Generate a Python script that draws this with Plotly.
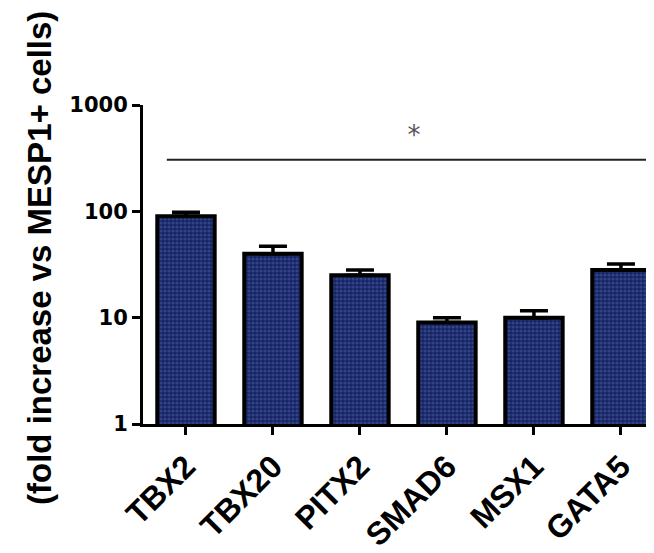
import plotly.graph_objects as go

genes = ["TBX2", "TBX20", "PITX2", "SMAD6", "MSX1", "GATA5"]
fold = [90, 40, 25, 9, 10, 28]
err = [8, 7, 3, 1, 1.6, 4]
sig_x = [-0.22, 5.31]
sig_y = [305, 305]
star_x = [2.62]
star_y = [490]

L, T, R, B = 135, 97, 646, 416
W, H = 654, 553

fig = go.Figure()
fig.add_trace(go.Bar(
    x=list(range(len(genes))), y=fold, width=0.66,
    marker=dict(color="#1c2a6e",
                line=dict(color="black", width=4),
                pattern=dict(shape=".", fgcolor="#4a64b8", bgcolor="#17235e", size=4, solidity=0.5)),
    error_y=dict(type="data", symmetric=False, array=err, arrayminus=[0]*len(err),
                 color="black", thickness=3.5, width=14),
    showlegend=False,
))
fig.add_trace(go.Scatter(x=sig_x, y=sig_y, mode="lines",
                         line=dict(color="#222", width=2), showlegend=False))
fig.add_trace(go.Scatter(x=star_x, y=star_y, mode="text", text=["*"],
                         textfont=dict(size=26, color="#555", family="DejaVu Sans"),
                         showlegend=False))

fig.update_layout(
    width=W, height=H,
    margin=dict(l=L, r=W - R, t=T, b=H - B),
    paper_bgcolor="white", plot_bgcolor="white",
    font=dict(family="DejaVu Sans", color="black"),
    xaxis=dict(range=[-0.494, 5.38], tickmode="array", tickvals=list(range(len(genes))),
               ticktext=["<b>%s</b>" % g for g in genes], tickangle=-45,
               showline=True, linecolor="black", linewidth=3,
               ticks="outside", ticklen=8, tickwidth=3, tickcolor="black",
               tickfont=dict(size=32, family="Liberation Sans", color="black"),
               showgrid=False, zeroline=False),
    yaxis=dict(type="log", range=[0, 3], tickvals=[1, 10, 100, 1000],
               ticktext=["<b>1</b>", "<b>10</b>", "<b>100</b>", "<b>1000</b>"],
               showline=True, linecolor="black", linewidth=3,
               ticks="outside", ticklen=8, tickwidth=3, tickcolor="black",
               tickfont=dict(size=21, family="DejaVu Sans", color="black"),
               showgrid=False, zeroline=False),
)
fig.add_annotation(text="<b>(fold increase vs MESP1+ cells)</b>", textangle=-90,
                   xref="paper", yref="paper", x=(32 - L) / (R - L), y=(B - 250) / (B - T),
                   showarrow=False, font=dict(size=33, family="Liberation Sans", color="black"),
                   xanchor="center", yanchor="middle")
fig.write_html("out.html")
